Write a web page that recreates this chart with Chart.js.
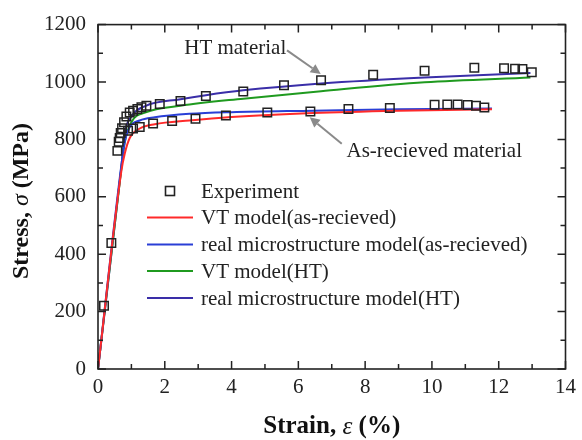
<!DOCTYPE html>
<html><head><meta charset="utf-8">
<script src="https://cdn.jsdelivr.net/npm/chart.js@4/dist/chart.umd.min.js"></script>
<style>html,body{margin:0;padding:0;background:#fff}#wrap{width:582px;height:440px}</style>
</head><body><div id="wrap"><canvas id="c" width="582" height="440"></canvas></div>
<script>
// ---- data ----
const expStrain = [0.18,0.40,0.58,0.62,0.65,0.68,0.72,0.78,0.85,0.95,1.05,1.18,1.30,1.45,1.85,2.47,3.23,4.35,5.57,6.68,8.24,9.78,11.27,12.16,12.49,12.71,12.99,
                   0.90,1.05,1.25,1.65,2.22,2.92,3.83,5.07,6.36,7.50,8.74,10.08,10.46,10.77,11.07,11.32,11.57];
const expStress = [220,439,760,792,805,822,839,860,880,894,900,906,912,917,923,934,951,967,989,1006,1025,1039,1050,1048,1046,1045,1034,
                   830,838,843,855,864,872,883,894,897,906,909,921,922,922,920,917,911];
const vtAsStrain = [0,0.70,0.80,0.95,1.25,1.70,2.74,4.00,6.45,9.00,11.80];
const vtAsStress = [0,690,750,805,838,853,866,878,892,900,905];
const rmAsStrain = [0,0.70,0.80,0.95,1.25,1.70,2.74,4.00,6.45,9.00,11.80];
const rmAsStress = [0,710,790,843,866,877,889,895,900,905,908];
const vtHtStrain = [0,0.70,0.80,1.00,1.43,2.47,4.35,6.68,9.78,12.95];
const vtHtStress = [0,700,790,860,894,917,942,968,999,1016];
const rmHtStrain = [0,0.70,0.80,1.00,1.43,2.47,3.23,4.35,6.68,9.78,12.95];
const rmHtStress = [0,705,820,880,917,940,954,971,995,1016,1031];
const seriesLabels = ["Experiment","VT model(as-recieved)","real microstructure model(as-recieved)","VT model(HT)","real microstructure model(HT)"];
const xTicks = [0,2,4,6,8,10,12,14];
const yTicks = [0,200,400,600,800,1000,1200];

const pts = (xs, ys) => xs.map((x,i)=>({x, y: ys[i]}));
const SERIF = "'Liberation Serif','Times New Roman',serif";
const colors = ['#222222','#ff2a2a','#2a3fd6','#1f9a1f','#3a2ea8'];

// annotation placement (in data units)
const notes = [
  {text:'HT material', tx:4.11, ty:1117, ax0:5.66, ay0:1110, ax1:6.67, ay1:1028},
  {text:'As-recieved material', tx:10.07, ty:757, ax0:7.30, ay0:785, ax1:6.34, ay1:877}
];

function drawMixed(ctx, parts, x, y, rot){
  ctx.save();
  ctx.translate(x,y); if(rot) ctx.rotate(rot);
  let total=0;
  parts.forEach(p=>{ctx.font=p.f; total+=ctx.measureText(p.t).width;});
  let cx=-total/2;
  ctx.textBaseline='middle'; ctx.textAlign='left'; ctx.fillStyle='#111';
  parts.forEach(p=>{ctx.font=p.f; ctx.fillText(p.t,cx,0); cx+=ctx.measureText(p.t).width;});
  ctx.restore();
}

const deco = {
  id:'deco',
  afterDraw(chart){
    const ctx=chart.ctx, a=chart.chartArea, xs=chart.scales.x, ys=chart.scales.y;
    ctx.save();
    // frame
    ctx.strokeStyle='#222'; ctx.lineWidth=1.6;
    ctx.strokeRect(a.left,a.top,a.right-a.left,a.bottom-a.top);
    // ticks
    ctx.lineWidth=1.5;
    for(let v=0; v<=14; v+=1){
      const px=xs.getPixelForValue(v), L=(v%2===0)?8:5;
      ctx.beginPath(); ctx.moveTo(px,a.bottom); ctx.lineTo(px,a.bottom-L);
      ctx.moveTo(px,a.top); ctx.lineTo(px,a.top+L); ctx.stroke();
    }
    for(let v=0; v<=1200; v+=100){
      const py=ys.getPixelForValue(v), L=(v%200===0)?8:5;
      ctx.beginPath(); ctx.moveTo(a.left,py); ctx.lineTo(a.left+L,py);
      ctx.moveTo(a.right,py); ctx.lineTo(a.right-L,py); ctx.stroke();
    }
    // legend
    const lx0=147, lx1=193, tx=201, rows=[191,217.5,244.5,271,298];
    ctx.font='21px '+SERIF; ctx.textBaseline='middle'; ctx.textAlign='left';
    chart.data.datasets.forEach((ds,i)=>{
      const y=rows[i];
      if(i===0){
        ctx.strokeStyle=ds.borderColor; ctx.lineWidth=1.6;
        ctx.strokeRect(170-4.5,y-4.5,9,9);
      } else {
        ctx.strokeStyle=ds.borderColor; ctx.lineWidth=2;
        ctx.beginPath(); ctx.moveTo(lx0,y); ctx.lineTo(lx1,y); ctx.stroke();
      }
      ctx.fillStyle='#222'; ctx.fillText(ds.label,tx,y+1);
    });
    // annotations
    notes.forEach(n=>{
      const x0=xs.getPixelForValue(n.ax0), y0=ys.getPixelForValue(n.ay0);
      const x1=xs.getPixelForValue(n.ax1), y1=ys.getPixelForValue(n.ay1);
      const ang=Math.atan2(y1-y0,x1-x0), hl=10, hw=5;
      ctx.strokeStyle='#8a8a8a'; ctx.fillStyle='#8a8a8a'; ctx.lineWidth=2;
      ctx.beginPath(); ctx.moveTo(x0,y0); ctx.lineTo(x1-hl*Math.cos(ang),y1-hl*Math.sin(ang)); ctx.stroke();
      ctx.beginPath(); ctx.moveTo(x1,y1);
      ctx.lineTo(x1-hl*Math.cos(ang)+hw*Math.sin(ang), y1-hl*Math.sin(ang)-hw*Math.cos(ang));
      ctx.lineTo(x1-hl*Math.cos(ang)-hw*Math.sin(ang), y1-hl*Math.sin(ang)+hw*Math.cos(ang));
      ctx.closePath(); ctx.fill();
      ctx.font='21px '+SERIF; ctx.fillStyle='#222'; ctx.textAlign='center'; ctx.textBaseline='middle';
      ctx.fillText(n.text, xs.getPixelForValue(n.tx), ys.getPixelForValue(n.ty));
    });
    // axis titles
    const B='bold 25px '+SERIF, I='italic 25px '+SERIF;
    drawMixed(ctx,[{t:'Strain, ',f:B},{t:'\u03b5',f:I},{t:' (%)',f:B}],(a.left+a.right)/2,427,0);
    const B2='bold 24px '+SERIF, I2='italic 24px '+SERIF;
    drawMixed(ctx,[{t:'Stress, ',f:B2},{t:'\u03c3',f:I2},{t:' (MPa)',f:B2}],22,201,-Math.PI/2);
    ctx.restore();
  }
};

const lineDs = (label, xs, ys, color) => ({
  type:'line', label, data:pts(xs,ys), borderColor:color, backgroundColor:color,
  borderWidth:2, pointRadius:0, fill:false, cubicInterpolationMode:'monotone', order:2
});

new Chart(document.getElementById('c'), {
  type:'scatter',
  data:{datasets:[
    {type:'scatter', label:seriesLabels[0], data:pts(expStrain,expStress), pointStyle:'rect', radius:6, pointRadius:6,
     borderColor:colors[0], backgroundColor:'rgba(0,0,0,0)', borderWidth:1.5, order:1},
    lineDs(seriesLabels[1], vtAsStrain, vtAsStress, colors[1]),
    lineDs(seriesLabels[2], rmAsStrain, rmAsStress, colors[2]),
    lineDs(seriesLabels[3], vtHtStrain, vtHtStress, colors[3]),
    lineDs(seriesLabels[4], rmHtStrain, rmHtStress, colors[4])
  ]},
  options:{
    responsive:false, animation:false, devicePixelRatio:1,
    layout:{padding:{top:17,right:14,left:0,bottom:0}},
    plugins:{legend:{display:false}, tooltip:{enabled:false}},
    scales:{
      x:{type:'linear', min:0, max:14,
         afterBuildTicks:(s)=>{s.ticks=xTicks.map(v=>({value:v}));},
         afterFit:(s)=>{s.height=71;},
         grid:{display:false, drawTicks:false}, border:{display:false},
         ticks:{color:'#222', font:{family:SERIF,size:21}, padding:6, maxRotation:0, autoSkip:false,
                callback:(v)=>String(v)}},
      y:{type:'linear', min:0, max:1200,
         afterBuildTicks:(s)=>{s.ticks=yTicks.map(v=>({value:v}));},
         afterFit:(s)=>{s.width=98;},
         grid:{display:false, drawTicks:false}, border:{display:false},
         ticks:{color:'#222', font:{family:SERIF,size:21}, padding:12, autoSkip:false,
                callback:(v)=>String(v)}}
    }
  },
  plugins:[deco]
});
</script></body></html>
